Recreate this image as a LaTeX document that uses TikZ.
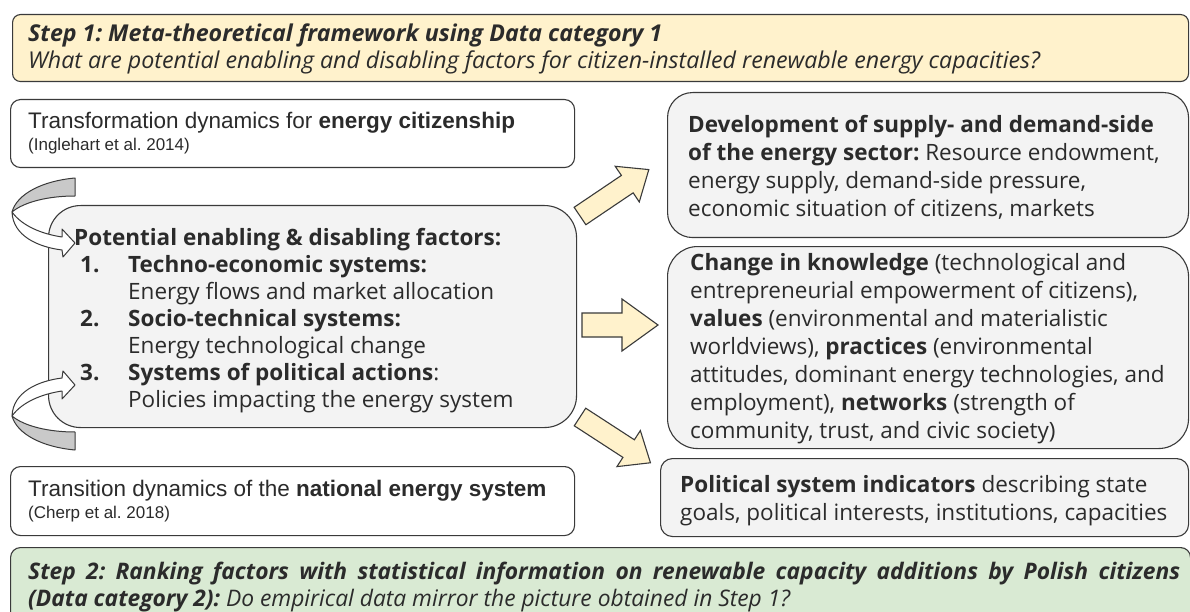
\documentclass[tikz,border=0pt]{standalone}
\usepackage{fontspec}
\setmainfont{Open Sans}
\newfontfamily\arialfont{Liberation Sans}
\frenchspacing
\definecolor{edge}{HTML}{3A3A3A}
\definecolor{stepyellow}{HTML}{FFF2CC}
\definecolor{stepgreen}{HTML}{D9EAD3}
\definecolor{boxgray}{HTML}{F3F3F3}
\definecolor{ribbon}{HTML}{C9C9C9}
\definecolor{ink}{HTML}{2B2B2B}

% block arrow: tail x, tail y, angle, length, shaft width, head width, head length
\newcommand\blockarrow[7]{%
  \begin{scope}[shift={(#1,#2)}, rotate=#3]
    \draw[blockarrowstyle] (0,-#5/2) -- (#4-#7,-#5/2) -- (#4-#7,-#6/2) -- (#4,0)
      -- (#4-#7,#6/2) -- (#4-#7,#5/2) -- (0,#5/2) -- cycle;
  \end{scope}}

% curled feedback arrow (back side grey, front side white)
\newcommand\curlarrow{%
  \draw[edge, line width=1pt, fill=ribbon, line join=round]
    (75,178) .. controls (42,181) and (17,194) .. (12,212)
    .. controls (24,202) and (48,196) .. (75,196) -- cycle;
  \draw[edge, line width=1pt, fill=white, line join=round]
    (12,212) .. controls (13,236) and (38,247) .. (62,250) -- (63,257) -- (75,243)
    -- (62,229) -- (62,237) .. controls (42,234) and (22,226) .. (12,212) -- cycle;}

\begin{document}
\begin{tikzpicture}[x=1pt, y=-1pt,
  box/.style={draw=edge, line width=1.1pt, anchor=north west, inner sep=0pt},
  label/.style={anchor=west, align=left, inner sep=0pt, text=ink},
  blockarrowstyle/.style={draw=edge, line width=1.1pt, fill=stepyellow, line join=miter},
  main/.style={font=\fontsize{22.5}{27}\selectfont},
  side/.style={font=\fontsize{22.5}{28}\selectfont},
  ref/.style={font=\arialfont\fontsize{22.5}{26}\selectfont}]

\useasboundingbox (0,0) rectangle (1190,612);
\clip (0,0) rectangle (1190,612);
\fill[white] (0,0) rectangle (1190,612);

% Step 1 banner
\node[box, fill=stepyellow, rounded corners=8pt, minimum width=1176pt, minimum height=67pt] (step1) at (12,14) {};
\node[label, font=\fontsize{23.2}{27}\selectfont] (step1text) at ([xshift=16pt,yshift=-1pt]step1.west)
  {\textbf{\textit{Step 1: Meta-theoretical framework using Data category 1}}\\
   \textit{What are potential enabling and disabling factors for citizen-installed renewable energy capacities?}};

% left column: theory sources
\node[box, fill=white, rounded corners=10pt, minimum width=564pt, minimum height=68pt] (citizen) at (10,99) {};
\node[label, ref] (citizentext) at ([xshift=18pt]citizen.west)
  {Transformation dynamics for \textbf{energy citizenship}\\[-4pt]
   {\fontsize{17}{19}\selectfont (Inglehart et al. 2014)}};

\node[box, fill=white, rounded corners=10pt, minimum width=564pt, minimum height=69pt] (national) at (10,466) {};
\node[label, ref] (nationaltext) at ([xshift=18pt]national.west)
  {Transition dynamics of the \textbf{national energy system}\\[-4pt]
   {\fontsize{17}{19}\selectfont (Cherp et al. 2018)}};

% central factor box
\node[box, fill=boxgray, rounded corners=32pt, minimum width=528pt, minimum height=222pt] (factors) at (48,205) {};
\node[label, main] (factorstext) at ([xshift=26pt,yshift=-4pt]factors.west)
  {\textbf{Potential enabling \& disabling factors:}\\
   \hspace*{6pt}\makebox[48pt][l]{\textbf{1.}}\textbf{Techno-economic systems:}\\
   \hspace*{54pt}Energy flows and market allocation\\
   \hspace*{6pt}\makebox[48pt][l]{\textbf{2.}}\textbf{Socio-technical systems:}\\
   \hspace*{54pt}Energy technological change\\
   \hspace*{6pt}\makebox[48pt][l]{\textbf{3.}}\textbf{Systems of political actions}:\\
   \hspace*{54pt}Policies impacting the energy system};

% right column: indicator groups
\node[box, fill=boxgray, rounded corners=25pt, minimum width=521pt, minimum height=145pt] (supply) at (667,92) {};
\node[label, side] (supplytext) at ([xshift=21pt,yshift=-2pt]supply.west)
  {\textbf{Development of supply- and demand-side}\\
   \textbf{of the energy sector:} Resource endowment,\\
   energy supply, demand-side pressure,\\
   economic situation of citizens, markets};

\node[box, fill=boxgray, rounded corners=30pt, minimum width=521pt, minimum height=202pt] (knowledge) at (667,246) {};
\node[label, side] (knowledgetext) at ([xshift=23pt,yshift=-1pt]knowledge.west)
  {\textbf{Change in knowledge} (technological and\\
   entrepreneurial empowerment of citizens),\\
   \textbf{values} (environmental and materialistic\\
   worldviews), \textbf{practices} (environmental\\
   attitudes, dominant energy technologies, and\\
   employment), \textbf{networks} (strength of\\
   community, trust, and civic society)};

\node[box, fill=boxgray, rounded corners=12pt, minimum width=528pt, minimum height=78pt] (political) at (660,458) {};
\node[label, side] (politicaltext) at ([xshift=20pt,yshift=-3pt]political.west)
  {\textbf{Political system indicators} describing state\\
   goals, political interests, institutions, capacities};

% Step 2 banner (runs past the lower edge)
\node[box, fill=stepgreen, rounded corners=10pt, minimum width=1180pt, minimum height=80pt] (step2) at (10,547) {};
\node[label, anchor=north west, font=\fontsize{22.8}{27}\selectfont] (step2text) at ([xshift=18pt,yshift=-15pt]step2.north west)
  {\makebox[1152pt][s]{\textbf{\textit{Step 2: Ranking factors with statistical information on renewable capacity additions by Polish citizens}}}\\
   \textbf{\textit{(Data category 2):}} \textit{Do empirical data mirror the picture obtained in Step 1?}};

% block arrows from the factor box to the indicator groups
\blockarrow{580}{216}{34}{83}{21}{43}{26}
\blockarrow{582}{325}{0}{76}{24}{52}{36}
\blockarrow{580}{417}{-33}{84}{21}{43}{26}

% feedback curls on the left of the factor box
\curlarrow
\begin{scope}[shift={(0,628)}, yscale=-1]
  \curlarrow
\end{scope}

\end{tikzpicture}
\end{document}
